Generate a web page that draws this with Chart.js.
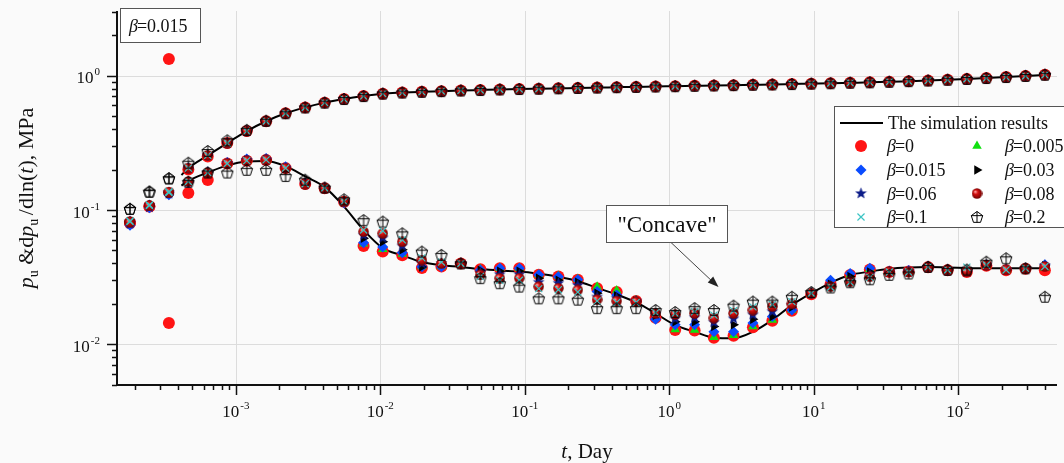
<!DOCTYPE html>
<html>
<head>
<meta charset="utf-8">
<title>Pressure and derivative type curves</title>
<script src="https://cdn.jsdelivr.net/npm/chart.js@4.4.1/dist/chart.umd.min.js"></script>
<style>
  html, body { margin: 0; padding: 0; background: #fafafa; }
  canvas { display: block; }
</style>
</head>
<body>
<canvas id="chart" width="1064" height="463"></canvas>
<script>
// sampling times of the computed points, Day
const days = [1.85e-4, 2.52e-4, 3.44e-4, 4.69e-4, 6.39e-4, 8.72e-4, 1.19e-3, 1.62e-3, 2.21e-3, 3.02e-3,
  4.12e-3, 5.61e-3, 7.66e-3, 1.04e-2, 1.42e-2, 1.94e-2, 2.65e-2, 3.61e-2, 4.93e-2, 6.72e-2,
  9.17e-2, 0.125, 0.171, 0.233, 0.317, 0.433, 0.590, 0.805, 1.10, 1.50,
  2.04, 2.79, 3.80, 5.18, 7.07, 9.64, 13.1, 17.9, 24.5, 33.4,
  45.5, 62.0, 84.6, 115, 157, 215, 293, 399];

// pressure p_u, MPa
const pMain = [0.082, 0.108, 0.135, 0.205, 0.255, 0.315, 0.387, 0.458, 0.525, 0.58,
  0.63, 0.67, 0.705, 0.735, 0.748, 0.758, 0.767, 0.775, 0.782, 0.789,
  0.795, 0.80, 0.805, 0.81, 0.815, 0.82, 0.825, 0.83, 0.835, 0.84,
  0.845, 0.85, 0.855, 0.86, 0.866, 0.872, 0.878, 0.885, 0.892, 0.90,
  0.91, 0.92, 0.932, 0.945, 0.96, 0.977, 0.995, 1.015];
const pB0 = [0.080, 0.106, 1.33, 0.200, 0.250, 0.315, 0.387, 0.458, 0.525, 0.58,
  0.63, 0.67, 0.705, 0.735, 0.748, 0.758, 0.767, 0.775, 0.782, 0.789,
  0.795, 0.80, 0.805, 0.81, 0.815, 0.82, 0.825, 0.83, 0.835, 0.84,
  0.845, 0.85, 0.855, 0.86, 0.866, 0.872, 0.878, 0.885, 0.892, 0.90,
  0.91, 0.92, 0.932, 0.945, 0.96, 0.977, 0.995, 1.015];
const pB02 = [0.102, 0.137, 0.172, 0.225, 0.275, 0.330, 0.395, 0.462, 0.525, 0.58,
  0.63, 0.67, 0.705, 0.735, 0.748, 0.758, 0.767, 0.775, 0.782, 0.789,
  0.795, 0.80, 0.805, 0.81, 0.815, 0.82, 0.825, 0.83, 0.835, 0.84,
  0.845, 0.85, 0.855, 0.86, 0.866, 0.872, 0.878, 0.885, 0.892, 0.90,
  0.91, 0.92, 0.932, 0.945, 0.96, 0.977, 0.995, 1.015];

// derivative dp_u/dln(t), MPa
const dpB0 = [0.080, 0.106, 0.0144, 0.134, 0.167, 0.222, 0.233, 0.236, 0.205, 0.156,
  0.145, 0.115, 0.054, 0.049, 0.046, 0.037, 0.038, 0.040, 0.0362, 0.0368,
  0.0368, 0.0330, 0.0320, 0.0302, 0.0262, 0.0245, 0.0210, 0.0158, 0.0128, 0.0127,
  0.0112, 0.0116, 0.0134, 0.0150, 0.0178, 0.0236, 0.0280, 0.0328, 0.0360, 0.0346,
  0.0348, 0.0375, 0.0356, 0.0346, 0.0384, 0.0356, 0.0366, 0.0356];
const dpB005 = [0.081, 0.108, 0.135, 0.162, 0.190, 0.222, 0.233, 0.236, 0.205, 0.156,
  0.145, 0.115, 0.056, 0.051, 0.047, 0.038, 0.038, 0.040, 0.0362, 0.0368,
  0.0368, 0.0330, 0.0322, 0.0305, 0.0268, 0.0252, 0.0212, 0.0160, 0.0129, 0.0128,
  0.0113, 0.0117, 0.0136, 0.0152, 0.0180, 0.0238, 0.0282, 0.0330, 0.0362, 0.0348,
  0.0350, 0.0376, 0.0358, 0.0348, 0.0386, 0.0358, 0.0368, 0.0372];
const dpB015 = [0.077, 0.104, 0.130, 0.160, 0.192, 0.226, 0.240, 0.242, 0.210, 0.158,
  0.146, 0.113, 0.057, 0.053, 0.048, 0.0378, 0.0378, 0.040, 0.0358, 0.0368,
  0.0368, 0.0329, 0.0319, 0.0302, 0.0247, 0.0233, 0.0208, 0.0154, 0.0140, 0.0140,
  0.0124, 0.0124, 0.0144, 0.0161, 0.0180, 0.0240, 0.0300, 0.0337, 0.0368, 0.0350,
  0.0355, 0.0378, 0.0358, 0.0350, 0.0389, 0.0360, 0.0368, 0.0392];
const dpB03 = [0.080, 0.107, 0.133, 0.162, 0.190, 0.222, 0.235, 0.237, 0.205, 0.157,
  0.145, 0.114, 0.0615, 0.058, 0.0505, 0.0377, 0.040, 0.040, 0.0356, 0.035,
  0.035, 0.031, 0.030, 0.029, 0.024, 0.023, 0.021, 0.0165, 0.0147, 0.0147,
  0.0136, 0.0140, 0.0154, 0.0161, 0.0190, 0.0240, 0.028, 0.032, 0.0345, 0.0347,
  0.0347, 0.0377, 0.0358, 0.0347, 0.0389, 0.0358, 0.0368, 0.0385];
const dpB06 = [0.079, 0.105, 0.132, 0.161, 0.190, 0.222, 0.234, 0.236, 0.205, 0.156,
  0.145, 0.115, 0.065, 0.062, 0.054, 0.040, 0.040, 0.040, 0.034, 0.033,
  0.033, 0.029, 0.0285, 0.0275, 0.0225, 0.022, 0.021, 0.0168, 0.0155, 0.0158,
  0.0146, 0.0155, 0.0166, 0.0175, 0.0195, 0.024, 0.0275, 0.030, 0.033, 0.0347,
  0.0347, 0.0377, 0.0358, 0.0347, 0.0389, 0.0358, 0.0368, 0.0385];
const dpB08 = [0.081, 0.108, 0.136, 0.163, 0.190, 0.222, 0.233, 0.236, 0.205, 0.156,
  0.145, 0.115, 0.069, 0.067, 0.058, 0.0424, 0.040, 0.040, 0.0329, 0.0311,
  0.0311, 0.0269, 0.0262, 0.0254, 0.0215, 0.0210, 0.0208, 0.0170, 0.0167, 0.0170,
  0.0157, 0.0170, 0.0180, 0.0191, 0.0200, 0.0240, 0.0269, 0.0292, 0.0319, 0.0347,
  0.0347, 0.0377, 0.0358, 0.0347, 0.0389, 0.0358, 0.0368, 0.0380];
const dpB1 = [0.083, 0.109, 0.137, 0.163, 0.190, 0.222, 0.233, 0.236, 0.205, 0.157,
  0.146, 0.116, 0.071, 0.070, 0.060, 0.044, 0.041, 0.040, 0.032, 0.030,
  0.030, 0.026, 0.0255, 0.0245, 0.021, 0.0205, 0.0205, 0.0172, 0.0170, 0.0175,
  0.0165, 0.0178, 0.0190, 0.0198, 0.0208, 0.0240, 0.0266, 0.0290, 0.0315, 0.0345,
  0.0345, 0.0377, 0.0358, 0.0375, 0.0389, 0.0358, 0.0368, 0.0380];
const dpB02 = [0.102, 0.137, 0.172, 0.162, 0.190, 0.190, 0.199, 0.199, 0.179, 0.168,
  0.147, 0.120, 0.084, 0.082, 0.067, 0.049, 0.0463, 0.040, 0.0311, 0.0285,
  0.0269, 0.0220, 0.0220, 0.0215, 0.0186, 0.0186, 0.0186, 0.0180, 0.0174, 0.0186,
  0.0180, 0.0194, 0.0208, 0.0208, 0.0226, 0.0245, 0.0265, 0.029, 0.0305, 0.0329,
  0.0337, 0.0377, 0.0358, 0.0360, 0.0412, 0.0437, 0.0368, 0.0226];

// simulation curves
const simDays = [4.2e-4, 4.69e-4, 6.39e-4, 8.72e-4, 1.19e-3, 1.62e-3, 2.21e-3, 3.02e-3, 4.12e-3, 5.61e-3,
  7.66e-3, 1.04e-2, 1.42e-2, 1.94e-2, 2.65e-2, 3.61e-2, 4.93e-2, 6.72e-2, 9.17e-2, 0.125,
  0.171, 0.233, 0.317, 0.433, 0.590, 0.805, 1.10, 1.50, 2.04, 2.79,
  3.80, 5.18, 7.07, 9.64, 13.1, 17.9, 24.5, 33.4, 45.5, 62.0,
  84.6, 115, 157, 215, 293, 399, 420];
const simP = [0.182, 0.205, 0.255, 0.315, 0.387, 0.458, 0.525, 0.58, 0.63, 0.67,
  0.705, 0.735, 0.748, 0.758, 0.767, 0.775, 0.782, 0.789, 0.795, 0.80,
  0.805, 0.81, 0.815, 0.82, 0.825, 0.83, 0.835, 0.84, 0.845, 0.85,
  0.855, 0.86, 0.866, 0.872, 0.878, 0.885, 0.892, 0.90, 0.91, 0.92,
  0.932, 0.945, 0.96, 0.977, 0.995, 1.015, 1.02];
const simDp = [0.152, 0.165, 0.190, 0.215, 0.230, 0.232, 0.212, 0.178, 0.148, 0.106,
  0.071, 0.052, 0.046, 0.041, 0.0388, 0.0377, 0.0363, 0.0354, 0.0348, 0.0335,
  0.0318, 0.0295, 0.0263, 0.0235, 0.0205, 0.0170, 0.0139, 0.0124, 0.0112, 0.0111,
  0.0124, 0.0152, 0.0196, 0.0240, 0.0287, 0.0328, 0.0348, 0.0365, 0.0373, 0.0376,
  0.0374, 0.0370, 0.0368, 0.0368, 0.0368, 0.0368, 0.0368];

const xTickExps = [-3, -2, -1, 0, 1, 2];
const yTickExps = [-2, -1, 0];

const SERIF = '"Liberation Serif", "Times New Roman", serif';

// custom marker glyphs
function makeStar(size, color) {
  const c = document.createElement('canvas');
  c.width = c.height = size;
  const g = c.getContext('2d');
  const cx = size / 2, cy = size / 2, ro = size / 2 - 0.3, ri = ro * 0.42;
  g.beginPath();
  for (let k = 0; k < 10; k++) {
    const r = k % 2 ? ri : ro;
    const a = -Math.PI / 2 + k * Math.PI / 5;
    g.lineTo(cx + r * Math.cos(a), cy + r * Math.sin(a));
  }
  g.closePath();
  g.fillStyle = color;
  g.fill();
  return c;
}

function makeSphere(size) {
  const c = document.createElement('canvas');
  c.width = c.height = size;
  const g = c.getContext('2d');
  const r = size / 2;
  const grad = g.createRadialGradient(r - r * 0.35, r - r * 0.35, 0.4, r, r, r);
  grad.addColorStop(0, '#ffa0a0');
  grad.addColorStop(0.35, '#d41010');
  grad.addColorStop(1, '#6a0000');
  g.beginPath();
  g.arc(r, r, r - 0.3, 0, Math.PI * 2);
  g.fillStyle = grad;
  g.fill();
  return c;
}

function makePentagon(size) {
  const c = document.createElement('canvas');
  c.width = c.height = size;
  const g = c.getContext('2d');
  const cx = size / 2, cy = size / 2 + 0.5, r = size / 2 - 1;
  const pts = [];
  for (let k = 0; k < 5; k++) {
    const a = -Math.PI / 2 + k * 2 * Math.PI / 5;
    pts.push([cx + r * Math.cos(a), cy + r * Math.sin(a)]);
  }
  g.strokeStyle = '#000';
  g.lineWidth = 1;
  g.beginPath();
  pts.forEach((p, i) => (i ? g.lineTo(p[0], p[1]) : g.moveTo(p[0], p[1])));
  g.closePath();
  g.moveTo(pts[4][0], pts[4][1]);
  g.lineTo(pts[1][0], pts[1][1]);
  g.moveTo(pts[0][0], pts[0][1]);
  g.lineTo(cx, (pts[2][1] + pts[3][1]) / 2);
  g.stroke();
  return c;
}

const series = [
  { label: '0', p: pB0, dp: dpB0, style: 'circle', bg: '#ff1414', r: 6 },
  { label: '0.005', p: pMain, dp: dpB005, style: 'triangle', bg: '#10e010', r: 5.5 },
  { label: '0.015', p: pMain, dp: dpB015, style: 'rectRot', bg: '#0a4cff', r: 5.5 },
  { label: '0.03', p: pMain, dp: dpB03, style: 'triangle', rot: 90, bg: '#000000', r: 5.5 },
  { label: '0.06', p: pMain, dp: dpB06, style: makeStar(13, '#0c1c88'), bg: '#0c1c88', r: 6 },
  { label: '0.08', p: pMain, dp: dpB08, style: makeSphere(11), bg: '#b00000', r: 5 },
  { label: '0.1', p: pMain, dp: dpB1, style: 'crossRot', bg: 'rgba(0,0,0,0)', border: '#3cc4c4', bw: 1.2, r: 5 },
  { label: '0.2', p: pB02, dp: dpB02, style: makePentagon(14), bg: 'rgba(0,0,0,0)', r: 7 }
];

const datasets = [
  {
    label: 'sim-p',
    data: simDays.map((t, i) => ({ x: t, y: simP[i] })),
    showLine: true, borderColor: '#000', borderWidth: 2, pointRadius: 0,
    cubicInterpolationMode: 'monotone', order: 20
  },
  {
    label: 'sim-dp',
    data: simDays.map((t, i) => ({ x: t, y: simDp[i] })),
    showLine: true, borderColor: '#000', borderWidth: 2, pointRadius: 0,
    cubicInterpolationMode: 'monotone', order: 20
  }
];

series.forEach((s, k) => {
  datasets.push({
    label: 'β=' + s.label,
    data: days.map((t, i) => ({ x: t, y: s.p[i] })).concat(days.map((t, i) => ({ x: t, y: s.dp[i] }))),
    showLine: false,
    pointStyle: s.style,
    pointRotation: s.rot || 0,
    pointRadius: s.r,
    pointBackgroundColor: s.bg,
    pointBorderColor: s.border || s.bg,
    pointBorderWidth: s.bw || 0,
    order: series.length - k
  });
});

// "10" with a raised exponent
function drawPow(ctx, exp, x, y, align) {
  ctx.font = '17px ' + SERIF;
  const wb = ctx.measureText('10').width;
  ctx.font = '11px ' + SERIF;
  const we = ctx.measureText(String(exp)).width;
  const w = wb + we + 1;
  const x0 = align === 'right' ? x - w : x - w / 2;
  ctx.font = '17px ' + SERIF;
  ctx.fillText('10', x0, y);
  ctx.font = '11px ' + SERIF;
  ctx.fillText(String(exp), x0 + wb + 1, y - 8);
}

function drawRuns(ctx, runs, cx, y) {
  let w = 0;
  runs.forEach(r => { ctx.font = r.font; r.w = ctx.measureText(r.text).width; w += r.w; });
  let x = cx - w / 2;
  runs.forEach(r => { ctx.font = r.font; ctx.fillText(r.text, x, y + (r.dy || 0)); x += r.w; });
}

function betaText(ctx, value, x, y, size) {
  ctx.font = 'italic ' + size + 'px ' + SERIF;
  ctx.fillText('β', x, y);
  const w = ctx.measureText('β').width;
  ctx.font = size + 'px ' + SERIF;
  ctx.fillText('=' + value, x + w - 1, y);
}

function drawMarker(ctx, ds, x, y) {
  ctx.save();
  ctx.fillStyle = ds.pointBackgroundColor;
  ctx.strokeStyle = ds.pointBorderColor;
  ctx.lineWidth = ds.pointBorderWidth;
  Chart.helpers.drawPoint(ctx, {
    pointStyle: ds.pointStyle, rotation: ds.pointRotation, radius: ds.pointRadius,
    borderWidth: ds.pointBorderWidth
  }, x, y);
  ctx.restore();
}

function logTicks(min, max) {
  const out = [];
  for (let e = Math.floor(Math.log10(min)); e <= Math.ceil(Math.log10(max)); e++) {
    for (let m = 1; m < 10; m++) {
      const v = m * Math.pow(10, e);
      if (v >= min * 0.999 && v <= max * 1.001) out.push({ v, major: m === 1 });
    }
  }
  return out;
}

const frame = {
  id: 'frame',
  beforeDraw(chart) {
    const { ctx, width, height } = chart;
    ctx.save();
    ctx.fillStyle = '#fafafa';
    ctx.fillRect(0, 0, width, height);
    ctx.restore();
  },
  beforeDatasetsDraw(chart) {
    const { ctx, chartArea: a, scales: { x, y } } = chart;
    ctx.save();
    ctx.strokeStyle = '#dcdcdc';
    ctx.lineWidth = 1;
    ctx.beginPath();
    xTickExps.forEach(e => {
      const px = Math.round(x.getPixelForValue(Math.pow(10, e))) + 0.5;
      ctx.moveTo(px, a.top); ctx.lineTo(px, a.bottom);
    });
    yTickExps.forEach(e => {
      const py = Math.round(y.getPixelForValue(Math.pow(10, e))) + 0.5;
      ctx.moveTo(a.left, py); ctx.lineTo(a.right, py);
    });
    ctx.stroke();
    ctx.restore();
  },
  afterDatasetsDraw(chart) {
    const { ctx, chartArea: a, scales: { x, y } } = chart;
    const ds = chart.data.datasets;
    ctx.save();

    // axes and ticks
    ctx.strokeStyle = '#111';
    ctx.lineWidth = 2;
    ctx.beginPath();
    ctx.moveTo(a.left, a.top); ctx.lineTo(a.left, a.bottom + 1);
    ctx.moveTo(a.left - 1, a.bottom); ctx.lineTo(a.right, a.bottom);
    ctx.stroke();
    ctx.lineWidth = 1.5;
    ctx.beginPath();
    logTicks(x.min, x.max).forEach(t => {
      const px = Math.round(x.getPixelForValue(t.v)) + 0.5;
      ctx.moveTo(px, a.bottom); ctx.lineTo(px, a.bottom + (t.major ? 10 : 5));
    });
    logTicks(y.min, y.max).forEach(t => {
      const py = Math.round(y.getPixelForValue(t.v)) + 0.5;
      ctx.moveTo(a.left, py); ctx.lineTo(a.left - (t.major ? 10 : 5), py);
    });
    ctx.stroke();

    // tick labels
    ctx.fillStyle = '#111';
    ctx.textAlign = 'left';
    ctx.textBaseline = 'alphabetic';
    xTickExps.forEach(e => drawPow(ctx, e, x.getPixelForValue(Math.pow(10, e)), a.bottom + 32, 'center'));
    yTickExps.forEach(e => drawPow(ctx, e, 100, y.getPixelForValue(Math.pow(10, e)) + 7.5, 'right'));

    // axis titles
    drawRuns(ctx, [
      { text: 't', font: 'italic 21px ' + SERIF },
      { text: ', Day', font: '21px ' + SERIF }
    ], (a.left + a.right) / 2, 458);
    ctx.save();
    ctx.translate(33, 198);
    ctx.rotate(-Math.PI / 2);
    drawRuns(ctx, [
      { text: 'p', font: 'italic 22px ' + SERIF },
      { text: 'u', font: '14px ' + SERIF, dy: 5 },
      { text: ' &d', font: '22px ' + SERIF },
      { text: 'p', font: 'italic 22px ' + SERIF },
      { text: 'u ', font: '14px ' + SERIF, dy: 5 },
      { text: '/dln(', font: '22px ' + SERIF },
      { text: 't', font: 'italic 22px ' + SERIF },
      { text: '), MPa', font: '22px ' + SERIF }
    ], 0, 0);
    ctx.restore();

    // case label
    ctx.fillStyle = '#fff';
    ctx.strokeStyle = '#555';
    ctx.lineWidth = 1;
    ctx.fillRect(120.5, 8.5, 80, 34);
    ctx.strokeRect(120.5, 8.5, 80, 34);
    ctx.fillStyle = '#111';
    betaText(ctx, '0.015', 129, 32, 18);

    // "Concave" callout
    ctx.strokeStyle = '#444';
    ctx.beginPath();
    ctx.moveTo(671, 242.5);
    ctx.lineTo(714, 283);
    ctx.stroke();
    const ang = Math.atan2(287 - 242.5, 718.5 - 671);
    ctx.save();
    ctx.translate(718.5, 287);
    ctx.rotate(ang);
    ctx.fillStyle = '#222';
    ctx.beginPath();
    ctx.moveTo(0, 0); ctx.lineTo(-11, -4); ctx.lineTo(-11, 4);
    ctx.closePath();
    ctx.fill();
    ctx.restore();
    ctx.fillStyle = '#fff';
    ctx.strokeStyle = '#555';
    ctx.fillRect(606.5, 205.5, 121, 37);
    ctx.strokeRect(606.5, 205.5, 121, 37);
    ctx.fillStyle = '#111';
    ctx.font = '23px ' + SERIF;
    ctx.textAlign = 'center';
    ctx.fillText('"Concave"', 667, 232);
    ctx.textAlign = 'left';

    // legend
    ctx.fillStyle = '#fff';
    ctx.strokeStyle = '#555';
    ctx.fillRect(834.5, 106.5, 240, 121);
    ctx.strokeRect(834.5, 106.5, 240, 121);
    ctx.strokeStyle = '#000';
    ctx.lineWidth = 2;
    ctx.beginPath();
    ctx.moveTo(840, 123); ctx.lineTo(883, 123);
    ctx.stroke();
    ctx.fillStyle = '#111';
    ctx.font = '18px ' + SERIF;
    ctx.fillText('The simulation results', 888, 129);
    const rows = [146, 170, 193.5, 217];
    series.forEach((s, k) => {
      const col = k % 2, row = Math.floor(k / 2);
      const mx = col ? 977 : 861;
      const tx = col ? 1005 : 887;
      drawMarker(ctx, ds[k + 2], mx, rows[row]);
      ctx.fillStyle = '#111';
      betaText(ctx, s.label, tx, rows[row] + 6, 18);
    });
    ctx.restore();
  }
};

new Chart(document.getElementById('chart'), {
  type: 'scatter',
  data: { datasets },
  options: {
    responsive: false,
    devicePixelRatio: 1,
    animation: false,
    events: [],
    layout: { padding: { left: 117, top: 11, right: 0, bottom: 78 } },
    scales: {
      x: { type: 'logarithmic', display: false, min: 1.504e-4, max: 484 },
      y: { type: 'logarithmic', display: false, min: 0.00498, max: 3.03 }
    },
    plugins: {
      legend: { display: false },
      tooltip: { enabled: false }
    }
  },
  plugins: [frame]
});
</script>
</body>
</html>
